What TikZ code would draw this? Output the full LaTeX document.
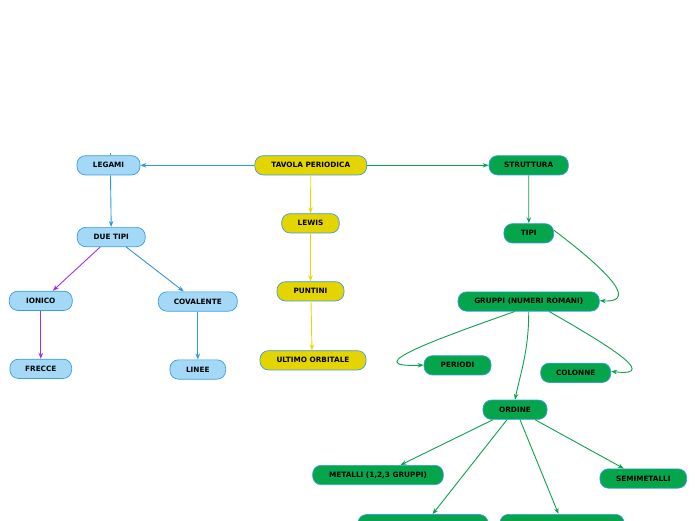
\documentclass[tikz,border=0pt]{standalone}
\usepackage{fontspec}
\setmainfont{DejaVu Sans}
\usetikzlibrary{arrows.meta}
\definecolor{bfill}{HTML}{A3D9F7}
\definecolor{bdraw}{HTML}{3C9CDC}
\definecolor{yfill}{HTML}{E4D500}
\definecolor{gfill}{HTML}{04A54B}
\definecolor{bline}{HTML}{2E96DB}
\definecolor{yline}{HTML}{E8D800}
\definecolor{gline}{HTML}{0EA04E}
\definecolor{pline}{HTML}{A030EE}
\tikzset{
  box/.style={draw=bdraw, line width=0.7pt, rounded corners=8.5pt, minimum height=19.3pt,
    inner sep=0pt, font=\fontsize{7.3}{8.5}\selectfont\bfseries, text=black},
  bbox/.style={box, fill=bfill},
  ybox/.style={box, fill=yfill},
  gbox/.style={box, fill=gfill},
  conn/.style={line width=0.9pt, -{Stealth[length=6pt,width=4.5pt]}},
  bc/.style={conn, draw=bline, color=bline},
  yc/.style={conn, draw=yline, color=yline},
  gc/.style={conn, draw=gline, color=gline},
  pc/.style={conn, draw=pline, color=pline},
}
\begin{document}
\begin{tikzpicture}[x=1pt,y=-1pt]
\useasboundingbox (0,0) rectangle (696,520);
\begin{scope}
\clip (0,0) rectangle (696,520);
% nodes
\node[bbox, minimum width=63pt] (legami) at (108.5,165.3) {LEGAMI};
\node[ybox, minimum width=112pt] (tavola) at (310.8,165.3) {TAVOLA PERIODICA};
\node[gbox, minimum width=79.3pt] (struttura) at (528.7,165.3) {STRUTTURA};
\node[ybox, minimum width=57.6pt] (lewis) at (310.5,223.3) {LEWIS};
\node[ybox, minimum width=67pt] (puntini) at (310.5,291.3) {PUNTINI};
\node[ybox, minimum width=106pt] (ultimo) at (313,360.3) {ULTIMO ORBITALE};
\node[bbox, minimum width=68pt] (duetipi) at (111.2,237) {DUE TIPI};
\node[bbox, minimum width=63pt] (ionico) at (40.8,300.8) {IONICO};
\node[bbox, minimum width=79pt] (covalente) at (197.8,301.5) {COVALENTE};
\node[bbox, minimum width=61.7pt] (frecce) at (40.8,368.8) {FRECCE};
\node[bbox, minimum width=55.7pt] (linee) at (197.8,369.5) {LINEE};
\node[gbox, minimum width=49.7pt] (tipi) at (528.8,233.3) {TIPI};
\node[gbox, minimum width=141.3pt] (gruppi) at (528.7,301.5) {GRUPPI (NUMERI ROMANI)};
\node[gbox, minimum width=67pt] (periodi) at (457.5,365.3) {PERIODI};
\node[gbox, minimum width=70pt] (colonne) at (575.7,372.8) {COLONNE};
\node[gbox, minimum width=64pt] (ordine) at (515,409.7) {ORDINE};
\node[gbox, minimum width=130.7pt] (metalli) at (378,475) {METALLI (1,2,3 GRUPPI)};
\node[gbox, minimum width=86.7pt] (semimetalli) at (643.3,478.5) {SEMIMETALLI};
\node[gbox, minimum width=130pt] (bl) at (423,524.2) {};
\node[gbox, minimum width=124pt] (br) at (562,524) {};
\coordinate (stub) at (110,152.5);
% connectors
\draw[line width=0.9pt, bline] ([xshift=1.5pt]legami.north) -- (stub);
\draw[bc] (tavola.west) -- (legami.east);
\draw[gc] (tavola.east) -- (struttura.west);
\draw[yc] (tavola.south) -- (lewis.north);
\draw[yc] (lewis.south) -- (puntini.north);
\draw[yc] ([xshift=0.5pt]puntini.south) -- ([xshift=-1pt]ultimo.north);
\draw[bc] ([xshift=2pt]legami.south) -- ([xshift=0pt]duetipi.north);
\draw[pc] ([xshift=-11pt]duetipi.south) -- ([xshift=12pt]ionico.north);
\draw[bc] ([xshift=15pt]duetipi.south) -- ([xshift=-14pt]covalente.north);
\draw[pc] (ionico.south) -- (frecce.north);
\draw[bc] (covalente.south) -- (linee.north);
\draw[gc] (struttura.south) -- (tipi.north);
\draw[gc] ([yshift=3pt]tipi.east) .. controls (600,265) and (642,303) .. ([yshift=0.8pt]gruppi.east);
\draw[gc] ([xshift=-14pt]gruppi.south) .. controls (440,338) and (355,368) .. ([yshift=0.2pt]periodi.west);
\draw[gc] ([xshift=20.5pt]gruppi.south) .. controls (595,338) and (665,378) .. ([yshift=1.5pt]colonne.east);
\draw[gc] (gruppi.south) .. controls (529,350) and (520,375) .. (ordine.north);
\draw[gc] ([xshift=-22pt]ordine.south) -- ([xshift=22.5pt]metalli.north);
\draw[gc] ([xshift=-8pt]ordine.south) -- ([xshift=9.5pt]bl.north);
\draw[gc] ([xshift=5pt]ordine.south) -- ([xshift=-3.5pt]br.north);
\draw[gc] ([xshift=20pt]ordine.south) -- ([xshift=-19.5pt]semimetalli.north);
\end{scope}
\end{tikzpicture}
\end{document}
